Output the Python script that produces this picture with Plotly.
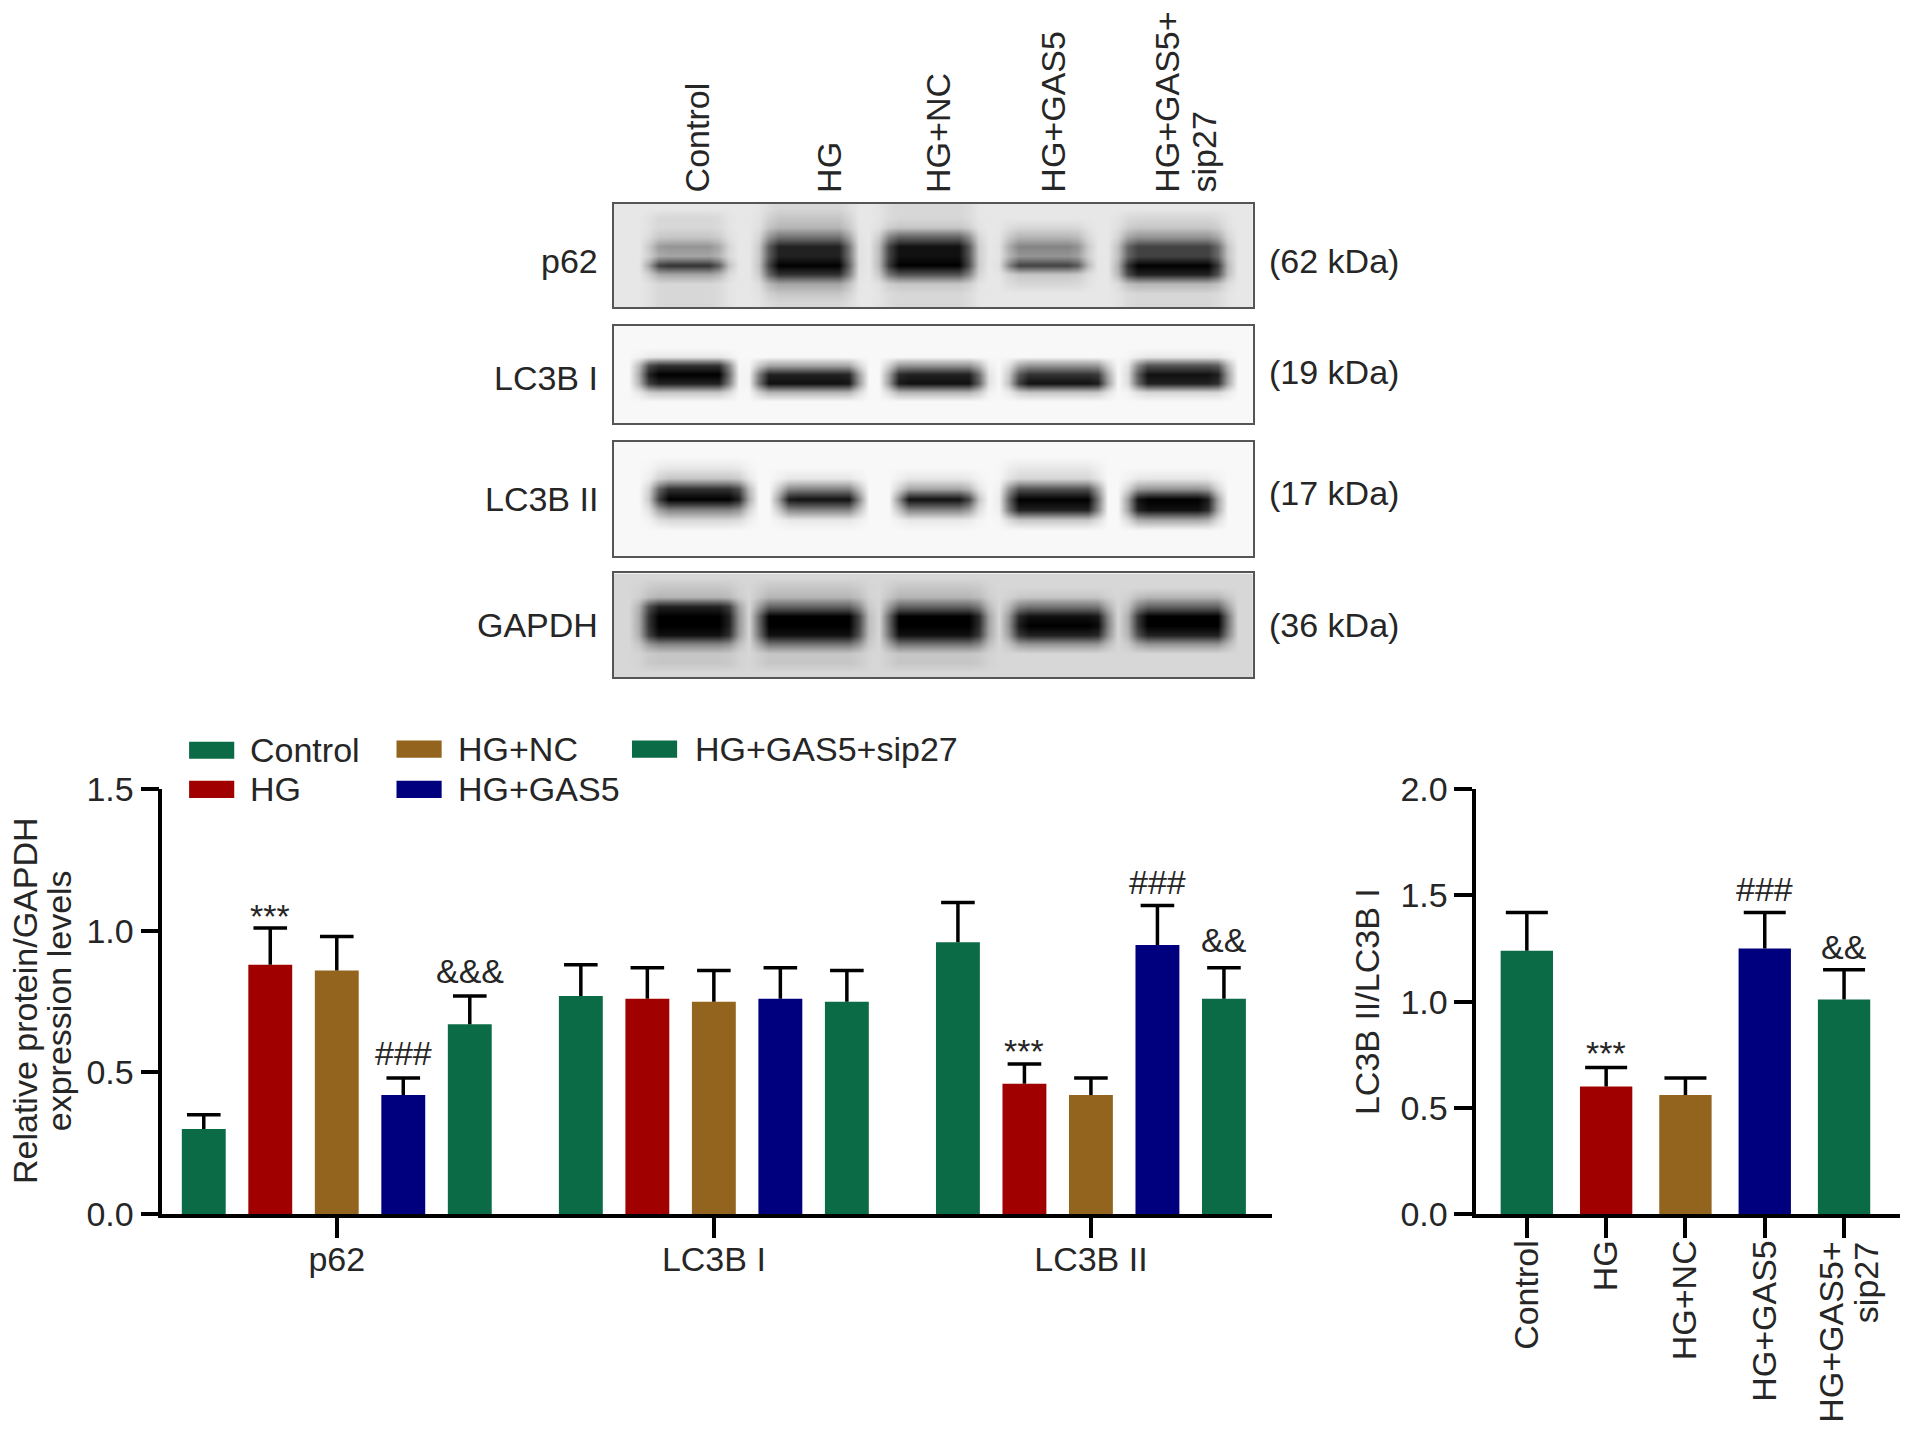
import plotly.graph_objects as go

W, H = 1913, 1433
S = 1913 / 1568

FONT = "Liberation Sans"
TEXT = "#262626"
GREEN, RED, BROWN, NAVY = "#0A6B46", "#A10000", "#93641E", "#00007F"

# Densitometry bars
groups = ["p62", "LC3B I", "LC3B II"]
series = ["Control", "HG", "HG+NC", "HG+GAS5", "HG+GAS5+sip27"]
series_colors = [GREEN, RED, BROWN, NAVY, GREEN]
control_vals = [0.30, 0.77, 0.96]
hg_vals = [0.88, 0.76, 0.46]
nc_vals = [0.86, 0.75, 0.42]
gas5_vals = [0.42, 0.76, 0.95]
sip27_vals = [0.67, 0.75, 0.76]
control_err = [0.05, 0.11, 0.14]
hg_err = [0.13, 0.11, 0.07]
nc_err = [0.12, 0.11, 0.06]
gas5_err = [0.06, 0.11, 0.14]
sip27_err = [0.10, 0.11, 0.11]

# LC3B II / LC3B I panel
ratio_vals = [1.24, 0.60, 0.56, 1.25, 1.01]
ratio_err = [0.18, 0.09, 0.08, 0.17, 0.14]

# (group, series, text, pixels above the error cap)
left_marks = [(0, 1, "***", 12), (0, 3, "###", 25), (0, 4, "&&&", 25),
              (2, 1, "***", 13), (2, 3, "###", 23), (2, 4, "&&", 28)]
right_marks = [(1, "***", 14), (3, "###", 23), (4, "&&", 23)]

# Blots: grey level (0 black, 15 white) of each lane, per row top to bottom
p62_bands = [
    [14, 13, 13, 14, 14], [13, 12, 13, 14, 13], [13, 11, 12, 13, 12],
    [12, 7, 6, 11, 9], [9, 2, 1, 8, 4], [10, 2, 1, 9, 4], [3, 0, 0, 4, 0],
    [10, 3, 5, 12, 2], [13, 10, 12, 13, 11], [13, 12, 13, 14, 13], [13, 13, 13, 14, 13],
]
lc3b1_bands = [
    [15, 15, 15, 15, 15], [15, 15, 15, 15, 15], [15, 15, 15, 15, 15],
    [14, 15, 15, 15, 14], [3, 10, 9, 9, 5], [0, 2, 2, 3, 1], [2, 1, 1, 1, 2],
    [12, 11, 11, 12, 13], [15, 15, 15, 15, 15], [15, 15, 15, 15, 15], [15, 15, 15, 15, 15],
]
lc3b2_bands = [
    [15, 15, 15, 15, 15], [15, 15, 15, 15, 15], [14, 15, 15, 14, 15],
    [12, 14, 14, 13, 14], [3, 8, 10, 5, 9], [0, 1, 1, 0, 0], [8, 8, 8, 2, 1],
    [13, 14, 14, 12, 10], [15, 15, 15, 15, 15], [15, 15, 15, 15, 15], [15, 15, 15, 15, 15],
]
gapdh_bands = [
    [13, 13, 13, 13, 13], [12, 12, 12, 13, 13], [11, 11, 11, 12, 11],
    [2, 6, 6, 7, 6], [0, 0, 0, 1, 0], [0, 0, 0, 0, 0], [1, 1, 1, 2, 2],
    [8, 7, 7, 9, 9], [12, 12, 12, 13, 13], [12, 12, 12, 13, 13], [13, 13, 13, 13, 13],
]
# where each lane sits, as a share of the blot width
p62_lanes = [(.06, .17), (.238, .368), (.424, .558), (.616, .735), (.798, .951)]
lc3b1_lanes = [(.046, .18), (.226, .379), (.434, .573), (.626, .769), (.817, .956)]
lc3b2_lanes = [(.065, .204), (.262, .381), (.448, .561), (.616, .757), (.81, .939)]
gapdh_lanes = [(.049, .188), (.228, .386), (.431, .577), (.624, .769), (.815, .958)]
blot_names = ["p62", "LC3B I", "LC3B II", "GAPDH"]
blot_sizes = ["(62 kDa)", "(19 kDa)", "(17 kDa)", "(36 kDa)"]
blot_bg = [14, 15, 15, 13]


def px(x):
    return x * S / W


def py(y):
    return 1 - y * S / H


def blot_grid(bands, lanes, bg):
    n = 64
    cell = 1 / n
    z = []
    for row in bands:
        cells = []
        for c in range(n):
            frac = (c + 0.5) * cell
            val = bg
            for lane, (lo, hi) in enumerate(lanes):
                if lo - cell <= frac <= hi + cell:
                    # soften the lane ends
                    edge = min(frac - lo, hi - frac)
                    w = min(1, max(0, (edge + cell) / (1.8 * cell)))
                    val = bg + (row[lane] - bg) * w
            cells.append(val)
        z.append(cells)
    return z


fig = go.Figure()

# grouped bars, 5 slots per group with a gap between the groups
group_step = 5.67
all_vals = [control_vals, hg_vals, nc_vals, gas5_vals, sip27_vals]
all_errs = [control_err, hg_err, nc_err, gas5_err, sip27_err]
for i, name in enumerate(series):
    xs = [g * group_step + i for g in range(len(groups))]
    fig.add_trace(go.Bar(
        x=xs, y=all_vals[i], width=0.66, name=name, marker_color=series_colors[i],
        marker_line_width=0, showlegend=False, xaxis="x", yaxis="y",
        error_y=dict(type="data", array=all_errs[i], symmetric=False,
                     arrayminus=[0] * len(groups),
                     color="black", thickness=3.5, width=0),
    ))
    # caps only at the top of the error bars
    fig.add_trace(go.Scatter(
        x=xs, y=[v + e for v, e in zip(all_vals[i], all_errs[i])], mode="markers",
        marker=dict(symbol="line-ew", size=24, line=dict(color="black", width=3.5)),
        showlegend=False, hoverinfo="skip", xaxis="x", yaxis="y",
    ))

# ratio panel
fig.add_trace(go.Bar(
    x=list(range(5)), y=ratio_vals, width=0.66, marker_color=series_colors,
    marker_line_width=0, showlegend=False, xaxis="x2", yaxis="y2",
    error_y=dict(type="data", array=ratio_err, symmetric=False,
                 arrayminus=[0] * 5, color="black", thickness=3.5, width=0),
))
fig.add_trace(go.Scatter(
    x=list(range(5)), y=[v + e for v, e in zip(ratio_vals, ratio_err)], mode="markers",
    marker=dict(symbol="line-ew", size=30, line=dict(color="black", width=3.5)),
    showlegend=False, hoverinfo="skip", xaxis="x2", yaxis="y2",
))

# blots
blot_tops = [(167, 252), (267, 347), (362, 456), (470, 555)]
blot_data = [(p62_bands, p62_lanes), (lc3b1_bands, lc3b1_lanes),
             (lc3b2_bands, lc3b2_lanes), (gapdh_bands, gapdh_lanes)]
for k, (bands, lanes) in enumerate(blot_data):
    fig.add_trace(go.Heatmap(
        z=blot_grid(bands, lanes, blot_bg[k]), zmin=0, zmax=15, zsmooth="best",
        colorscale=[[0, "#000000"], [1, "#F8F8F8"]], showscale=False,
        xaxis=f"x{k + 3}", yaxis=f"y{k + 3}", hoverinfo="skip",
    ))

axis_font = dict(family=FONT, size=34, color=TEXT)
bar_y = dict(showgrid=False, zeroline=False, showline=True, linecolor="black", linewidth=3.5,
             ticks="outside", ticklen=18, tickwidth=3.5, tickcolor="black", automargin=False,
             tickfont=axis_font, tickformat=".1f", domain=[py(995), py(647)])
bar_x = dict(showgrid=False, zeroline=False, showline=True, linecolor="black", linewidth=3.5,
             ticks="outside", ticklen=20, tickwidth=3.5, tickcolor="black", automargin=False,
             tickfont=axis_font, tickmode="array")

layout = dict(
    width=W, height=H, autosize=False, margin=dict(l=0, r=0, t=0, b=0),
    paper_bgcolor="white", plot_bgcolor="white", barmode="overlay",
    font=axis_font,
    xaxis=dict(bar_x, domain=[px(133), px(1043)], range=[-0.624, 16.07],
               tickvals=[g * group_step + 2 for g in range(3)], ticktext=groups,
               ticklabelstandoff=-7),
    yaxis=dict(bar_y, range=[0, 1.5], tickvals=[0, 0.5, 1.0, 1.5]),
    xaxis2=dict(bar_x, domain=[px(1210), px(1557)], range=[-0.638, 4.7],
                tickvals=list(range(5)), ticktext=series[:4] + [""], tickangle=-90,
                ticklabelstandoff=-11),
    yaxis2=dict(bar_y, range=[0, 2.0], tickvals=[0, 0.5, 1.0, 1.5, 2.0], anchor="x2"),
)
layout["xaxis2"]["anchor"] = "y2"
layout["yaxis"]["anchor"] = "x"

for k, (top, bottom) in enumerate(blot_tops):
    n = k + 3
    layout[f"xaxis{n}"] = dict(domain=[px(503), px(1027)], range=[-0.5, 63.5], anchor=f"y{n}",
                               showgrid=False, zeroline=False, ticks="", showticklabels=False,
                               automargin=False,
                               showline=True, mirror=True, linecolor="#555555", linewidth=2)
    layout[f"yaxis{n}"] = dict(domain=[py(bottom), py(top)], range=[10.5, -0.5], anchor=f"x{n}",
                               showgrid=False, zeroline=False, ticks="", showticklabels=False,
                               automargin=False,
                               showline=True, mirror=True, linecolor="#555555", linewidth=2)

annotations = []


def note(text, x, y, xanchor="center", yanchor="middle", angle=0, xref="paper", yref="paper", yshift=0):
    annotations.append(dict(text=text, x=x, y=y, xref=xref, yref=yref, xanchor=xanchor,
                            yanchor=yanchor, textangle=angle, showarrow=False, yshift=yshift,
                            font=axis_font, borderpad=0, borderwidth=0))


# blot labels
for name, y in zip(blot_names, [214, 310, 409, 512]):
    note(name, px(490), py(y), xanchor="right")
for size, y in zip(blot_sizes, [214, 305, 404, 512]):
    note(size, px(1040), py(y), xanchor="left")
lane_labels = ["Control", "HG", "HG+NC", "HG+GAS5", "HG+GAS5+", "sip27"]
for label, x in zip(lane_labels, [571, 680, 769, 863, 957, 987]):
    note(label, px(x), py(158), yanchor="bottom", angle=-90)

# axis titles
note("Relative protein/GAPDH", px(21), py(820), angle=-90)
note("expression levels", px(49), py(820), angle=-90)
note("LC3B II/LC3B I", px(1120), py(821), angle=-90)

# two line tick label of the ratio panel
note("HG+GAS5+", px(1501), py(1018), yanchor="top", angle=-90)
note("sip27", px(1530), py(1018), yanchor="top", angle=-90)

# significance marks
for g, s, text, up in left_marks:
    note(text, g * group_step + s, all_vals[s][g] + all_errs[s][g], xref="x", yref="y", yshift=up)
for s, text, up in right_marks:
    note(text, s, ratio_vals[s] + ratio_err[s], xref="x2", yref="y2", yshift=up)

# legend, 3 columns
legend_pos = [(155, 205, 615), (155, 205, 647), (325, 375, 614), (325, 375, 647), (518, 570, 614)]
shapes = []
for i, (sx, tx, y) in enumerate(legend_pos):
    shapes.append(dict(type="rect", xref="paper", yref="paper", x0=px(sx), x1=px(sx + 37),
                       y0=py(y + 7), y1=py(y - 7), fillcolor=series_colors[i], line_width=0))
    note(series[i], px(tx), py(y), xanchor="left")

layout["annotations"] = annotations
layout["shapes"] = shapes
fig.update_layout(**layout)

fig.write_html("out.html", config=dict(displayModeBar=False),
               post_script="document.body.style.margin='0';")
